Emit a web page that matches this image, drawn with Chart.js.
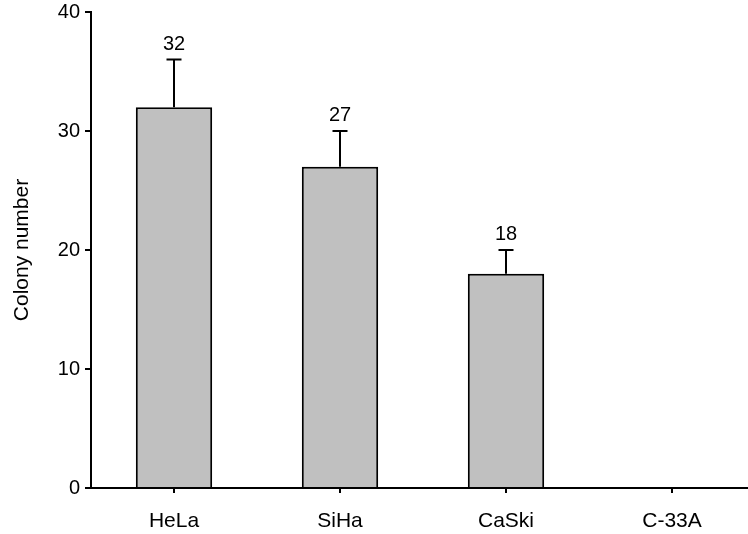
<!DOCTYPE html>
<html>
<head>
<meta charset="utf-8">
<script src="https://cdn.jsdelivr.net/npm/chart.js@4/dist/chart.umd.min.js"></script>
<style>
  html, body { margin: 0; padding: 0; background: #fff; }
  #wrap { position: relative; width: 748px; height: 534px; overflow: hidden; }
  #box { position: absolute; left: 0; top: -5px; width: 770px; height: 539px; }
</style>
</head>
<body>
<div id="wrap"><div id="box"><canvas id="c"></canvas></div></div>
<script>
// Colony counts per cervical cancer cell line, with upper error (SD)
const cellLines = ['HeLa', 'SiHa', 'CaSki', 'C-33A'];
const colonyCounts = [32, 27, 18, 0];
const colonyErrors = [4, 3, 2, 0];
const yTicks = [0, 10, 20, 30, 40];

const FONT = "'Liberation Sans', Arial, sans-serif";

// Upper error whiskers with caps, plus value labels above them
const errorBarPlugin = {
  id: 'errorBars',
  afterDatasetsDraw(chart) {
    const ctx = chart.ctx;
    const meta = chart.getDatasetMeta(0);
    const yScale = chart.scales.y;
    ctx.save();
    meta.data.forEach((bar, i) => {
      const v = colonyCounts[i];
      const e = colonyErrors[i];
      if (!v) return;
      const x = bar.x;
      const yTop = yScale.getPixelForValue(v + e);
      const yBar = yScale.getPixelForValue(v);
      ctx.strokeStyle = '#000';
      ctx.lineWidth = 2;
      if (e > 0) {
        ctx.beginPath();
        ctx.moveTo(x, yBar);
        ctx.lineTo(x, yTop);
        ctx.moveTo(x - 7.5, yTop);
        ctx.lineTo(x + 7.5, yTop);
        ctx.stroke();
      }
      ctx.fillStyle = '#000';
      ctx.font = '20px ' + FONT;
      ctx.textAlign = 'center';
      ctx.textBaseline = 'alphabetic';
      ctx.fillText(String(v), x, yTop - 10);
    });
    ctx.restore();
  }
};

new Chart(document.getElementById('c'), {
  type: 'bar',
  data: {
    labels: cellLines,
    datasets: [{
      data: colonyCounts,
      backgroundColor: '#c0c0c0',
      borderColor: '#000',
      borderWidth: 2,
      barPercentage: 0.46,
      categoryPercentage: 1.0
    }]
  },
  options: {
    responsive: true,
    maintainAspectRatio: false,
    animation: false,
    layout: { padding: { left: 0, right: 15, top: 7, bottom: 0 } },
    plugins: { legend: { display: false }, tooltip: { enabled: false } },
    scales: {
      x: {
        offset: true,
        grid: { offset: false, drawOnChartArea: false, drawTicks: true, tickLength: 5, color: '#000', lineWidth: 2 },
        border: { display: true, color: '#000', width: 2 },
        ticks: { color: '#000', font: { family: FONT, size: 21 }, padding: 16, maxRotation: 0 },
        afterFit(scale) { scale.height = 46; }
      },
      y: {
        min: 0,
        max: 40,
        afterBuildTicks(scale) { scale.ticks = yTicks.map(v => ({ value: v })); },
        grid: { drawOnChartArea: false, drawTicks: true, tickLength: 6, color: '#000', lineWidth: 2 },
        border: { display: true, color: '#000', width: 2 },
        ticks: { color: '#000', font: { family: FONT, size: 20 }, padding: 5 },
        title: { display: true, text: 'Colony number', color: '#000', font: { family: FONT, size: 21 }, padding: { top: 10, bottom: 0 } },
        afterFit(scale) { scale.width = 91; }
      }
    }
  },
  plugins: [errorBarPlugin]
});
</script>
</body>
</html>
